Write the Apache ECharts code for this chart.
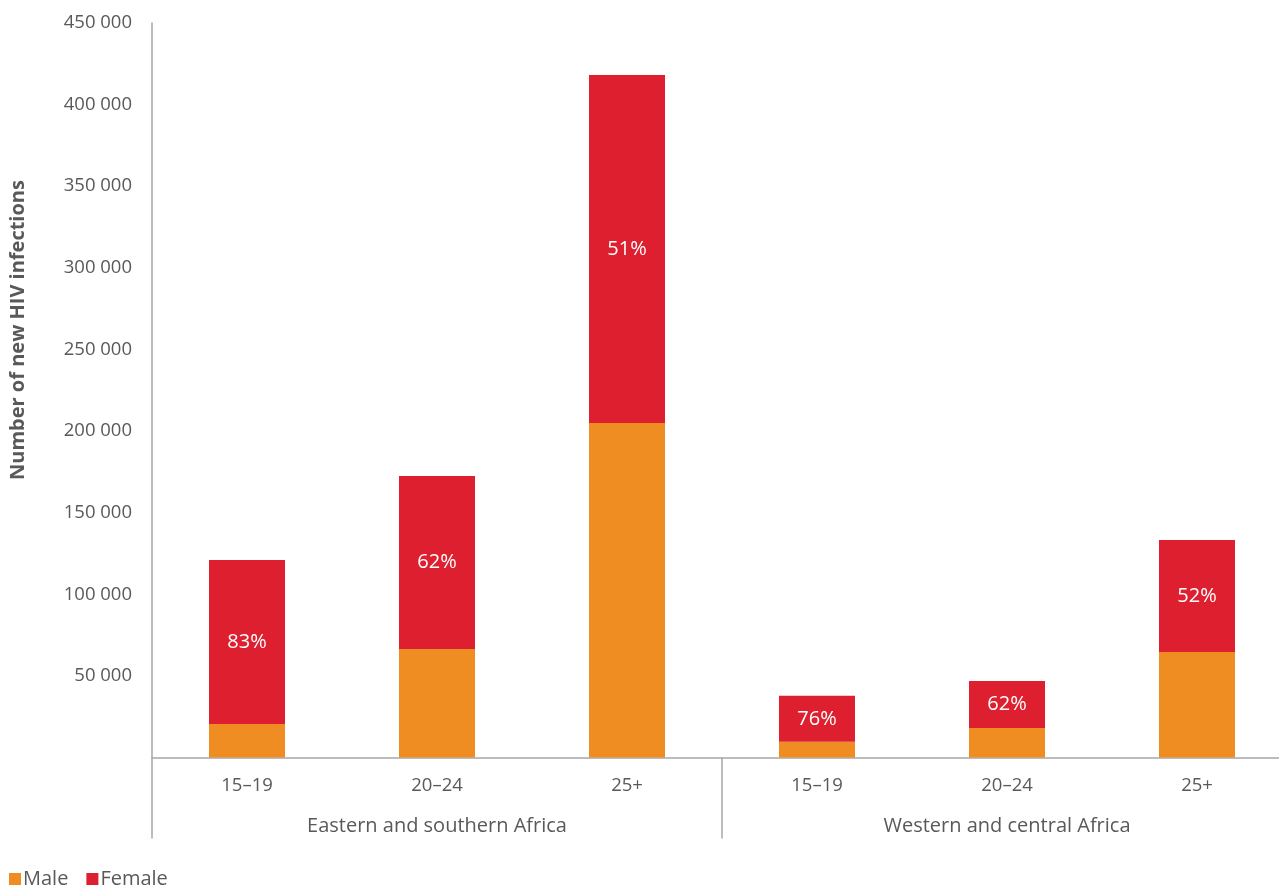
<!DOCTYPE html>
<html>
<head>
<meta charset="utf-8">
<script src="https://cdn.jsdelivr.net/npm/echarts@6/dist/echarts.min.js"></script>
<style>
  * { margin: 0; padding: 0; }
  body { background: #fff; }
  #chart { width: 1279px; height: 886px; }
</style>
</head>
<body>
<div id="chart"></div>
<script>
// age groups (first level of x axis) and regions (second level)
var ageGroups = ['15–19', '20–24', '25+', '15–19', '20–24', '25+'];
var regions = ['Eastern and southern Africa', 'Western and central Africa'];

// new HIV infections
var maleValues = [20600, 66500, 205000, 9600, 18100, 64700];
var femaleValues = [100400, 106000, 213200, 28200, 28800, 68600];
// share of females, as printed on the bars
var femaleShare = ['83%', '62%', '51%', '76%', '62%', '52%'];

var yTicks = { min: 0, max: 450000, interval: 50000 };

var textFont = '"Open Sans", Lato, sans-serif';
var textColor = '#595959';
var axisColor = '#a6a6a6';

var myChart = echarts.init(document.getElementById('chart'));
myChart.setOption({
  animation: false,
  textStyle: { fontFamily: textFont },
  // the plot runs a little past the right edge, as in the source picture
  grid: {
    left: 152, width: 1140, top: 23, bottom: 128.5,
    containLabel: false, outerBoundsMode: 'none'
  },
  legend: {
    left: 4, bottom: -8,
    itemWidth: 12, itemHeight: 12, itemGap: 18,
    icon: 'rect',
    textStyle: { fontSize: 20, color: textColor, fontFamily: textFont, padding: [0, 0, 0, -3] },
    data: ['Male', 'Female']
  },
  xAxis: [
    {
      type: 'category',
      data: ageGroups,
      axisLine: { show: true, lineStyle: { color: axisColor, width: 1.5 } },
      axisTick: { show: false },
      axisLabel: { color: textColor, fontSize: 18.5, margin: 19, fontFamily: textFont }
    },
    {
      type: 'category',
      data: regions,
      position: 'bottom',
      axisLine: { show: false },
      axisTick: { show: true, length: 81, lineStyle: { color: axisColor, width: 1.5 } },
      axisLabel: { color: textColor, fontSize: 20, margin: 59, fontFamily: textFont }
    }
  ],
  yAxis: {
    type: 'value',
    min: yTicks.min, max: yTicks.max, interval: yTicks.interval,
    axisLine: { show: true, lineStyle: { color: axisColor, width: 1.5 } },
    axisTick: { show: false },
    splitLine: { show: false },
    axisLabel: {
      color: textColor, fontSize: 18.5, margin: 20, fontFamily: textFont,
      formatter: function (v) {
        if (v === 0) return '';
        return String(v).replace(/\B(?=(\d{3})+(?!\d))/g, ' ');
      }
    }
  },
  graphic: [{
    type: 'text',
    x: 18, y: 330,
    rotation: Math.PI / 2,
    style: {
      text: 'Number of new HIV infections',
      fontSize: 20, fontWeight: 'bold', fill: textColor, fontFamily: textFont,
      align: 'center', verticalAlign: 'middle'
    }
  }],
  series: [
    {
      name: 'Male', type: 'bar', stack: 'total',
      xAxisIndex: 0,
      barWidth: '40%',
      itemStyle: { color: '#EF8C22' },
      data: maleValues
    },
    {
      name: 'Female', type: 'bar', stack: 'total',
      xAxisIndex: 0,
      barWidth: '40%',
      itemStyle: { color: '#DE1F2F' },
      label: {
        show: true, position: 'inside',
        color: '#fff', fontSize: 20, fontFamily: textFont,
        formatter: function (p) { return femaleShare[p.dataIndex]; }
      },
      data: femaleValues
    }
  ]
});
</script>
</body>
</html>
